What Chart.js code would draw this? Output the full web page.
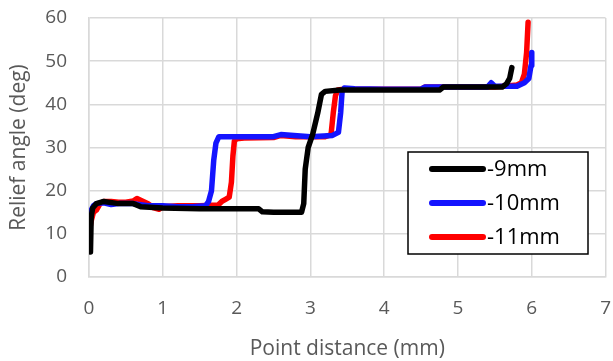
<!DOCTYPE html>
<html>
<head>
<meta charset="utf-8">
<script src="https://cdn.jsdelivr.net/npm/chart.js@4"></script>
<style>
  body { margin: 0; background: #fff; }
  #wrap { width: 613px; height: 361px; }
</style>
</head>
<body>
<div id="wrap"><canvas id="chart"></canvas></div>
<script>
// -9mm
const nineX = [0.02, 0.03, 0.05, 0.1, 0.2, 0.4, 0.6, 0.7, 1.0, 1.5, 2.0, 2.3, 2.35, 2.5, 2.88, 2.91, 2.93, 2.97, 3.03, 3.1, 3.15, 3.2, 3.4, 4.0, 4.5, 4.75, 4.8, 5.2, 5.6, 5.66, 5.7, 5.73];
const nineY = [5.8, 14, 16, 17, 17.5, 17, 17, 16.3, 16, 15.8, 15.8, 15.8, 15.1, 15, 15, 17, 25, 30, 33, 38, 42.3, 43, 43.3, 43.3, 43.3, 43.3, 44, 44, 44, 44.8, 46, 48.5];
// -10mm
const tenX = [0.01, 0.03, 0.06, 0.1, 0.2, 0.3, 0.4, 0.6, 0.8, 1.0, 1.2, 1.4, 1.58, 1.62, 1.66, 1.69, 1.72, 1.76, 1.82, 2.0, 2.5, 2.6, 3.0, 3.3, 3.38, 3.41, 3.43, 3.46, 3.6, 4.0, 4.5, 4.55, 5.0, 5.4, 5.45, 5.5, 5.8, 5.9, 5.96, 5.99, 6.0];
const tenY = [13, 15.5, 16.5, 17, 17.2, 16.8, 17, 17, 16.5, 16.5, 16.3, 16.3, 16.5, 17.5, 20, 27, 31, 32.5, 32.5, 32.5, 32.5, 33, 32.5, 32.8, 33.5, 38, 43, 43.8, 43.6, 43.5, 43.5, 44, 44, 44, 45, 44.2, 44.2, 45, 46, 49, 52];
// -11mm
const elevenX = [0.01, 0.03, 0.06, 0.1, 0.15, 0.2, 0.3, 0.4, 0.5, 0.6, 0.65, 0.7, 0.8, 0.88, 0.95, 1.0, 1.2, 1.5, 1.75, 1.8, 1.85, 1.9, 1.93, 1.95, 1.97, 2.0, 2.1, 2.5, 2.6, 2.8, 3.0, 3.2, 3.28, 3.31, 3.34, 3.37, 3.45, 4.0, 4.5, 4.55, 5.0, 5.5, 5.7, 5.8, 5.86, 5.9, 5.93, 5.95];
const elevenY = [11, 13, 15, 15.5, 17, 17.5, 17.5, 17.3, 17.3, 17.6, 18.2, 17.8, 17, 16, 15.7, 16.3, 16.5, 16.5, 16.7, 17.5, 18, 18.5, 22, 28, 31.5, 32, 32.2, 32.3, 32.8, 32.5, 32.5, 32.5, 33, 38, 42, 43.3, 43.5, 43.5, 43.5, 44, 44, 44, 44.3, 44.5, 45, 47, 52, 59];

const seriesNames = ["-9mm", "-10mm", "-11mm"];
const seriesColors = ["#000000", "#1414ff", "#ff0000"];

function pts(xs, ys) {
    return xs.map((x, i) => ({ x: x, y: ys[i] }));
}

const gridColor = "#d9d9d9";
const textColor = "#595959";
const fontFamily = "'Open Sans', sans-serif";

// legend box drawn inside the plot, like the Excel one
const boxLegend = {
    id: "boxLegend",
    afterDatasetsDraw(chart) {
        const ctx = chart.ctx;
        const left = 408, top = 152, w = 180, h = 102;
        ctx.save();
        ctx.fillStyle = "#fff";
        ctx.fillRect(left, top, w, h);
        ctx.strokeStyle = "#000";
        ctx.lineWidth = 1.5;
        ctx.strokeRect(left, top, w, h);
        ctx.font = "22px " + fontFamily;
        ctx.textBaseline = "middle";
        const rows = [169, 203, 237];
        chart.data.datasets.forEach((ds, i) => {
            ctx.strokeStyle = ds.borderColor;
            ctx.lineWidth = 6;
            ctx.lineCap = "round";
            ctx.beginPath();
            ctx.moveTo(432, rows[i]);
            ctx.lineTo(483, rows[i]);
            ctx.stroke();
            ctx.fillStyle = "#000";
            ctx.fillText(ds.label, 487, rows[i] + 1);
        });
        ctx.restore();
    }
};

new Chart(document.getElementById("chart"), {
    type: "scatter",
    data: {
        datasets: [
            { label: seriesNames[0], data: pts(nineX, nineY), borderColor: seriesColors[0] },
            { label: seriesNames[1], data: pts(tenX, tenY), borderColor: seriesColors[1] },
            { label: seriesNames[2], data: pts(elevenX, elevenY), borderColor: seriesColors[2] }
        ].map(d => Object.assign(d, {
            showLine: true,
            pointRadius: 0,
            borderWidth: 5.5,
            borderJoinStyle: "round",
            borderCapStyle: "round",
            fill: false
        }))
    },
    options: {
        responsive: true,
        maintainAspectRatio: false,
        animation: false,
        layout: { padding: { top: 18, right: 6, left: 0, bottom: 0 } },
        plugins: {
            legend: { display: false },
            tooltip: { enabled: false }
        },
        scales: {
            x: {
                type: "linear",
                min: 0,
                max: 7,
                ticks: { stepSize: 1, color: textColor, padding: 2, font: { family: fontFamily, size: 19 } },
                grid: { color: gridColor, lineWidth: 1.5, drawTicks: true, tickLength: 18, tickColor: "rgba(0,0,0,0)" },
                border: { color: gridColor, width: 1.5 },
                title: { display: true, text: "Point distance (mm)", color: textColor, font: { family: fontFamily, size: 21 }, padding: { top: 0, bottom: -1 } },
                afterFit(s) { s.height = 84; }
            },
            y: {
                min: 0,
                max: 60,
                ticks: { stepSize: 10, color: textColor, padding: 2, font: { family: fontFamily, size: 19 } },
                grid: { color: gridColor, lineWidth: 1.5, drawTicks: true, tickLength: 20, tickColor: "rgba(0,0,0,0)" },
                border: { color: gridColor, width: 1.5 },
                title: { display: true, text: "Relief angle (deg)", color: textColor, font: { family: fontFamily, size: 21 }, padding: { top: 6, bottom: 0 } },
                afterFit(s) { s.width = 89; }
            }
        }
    },
    plugins: [boxLegend]
});
</script>
</body>
</html>
